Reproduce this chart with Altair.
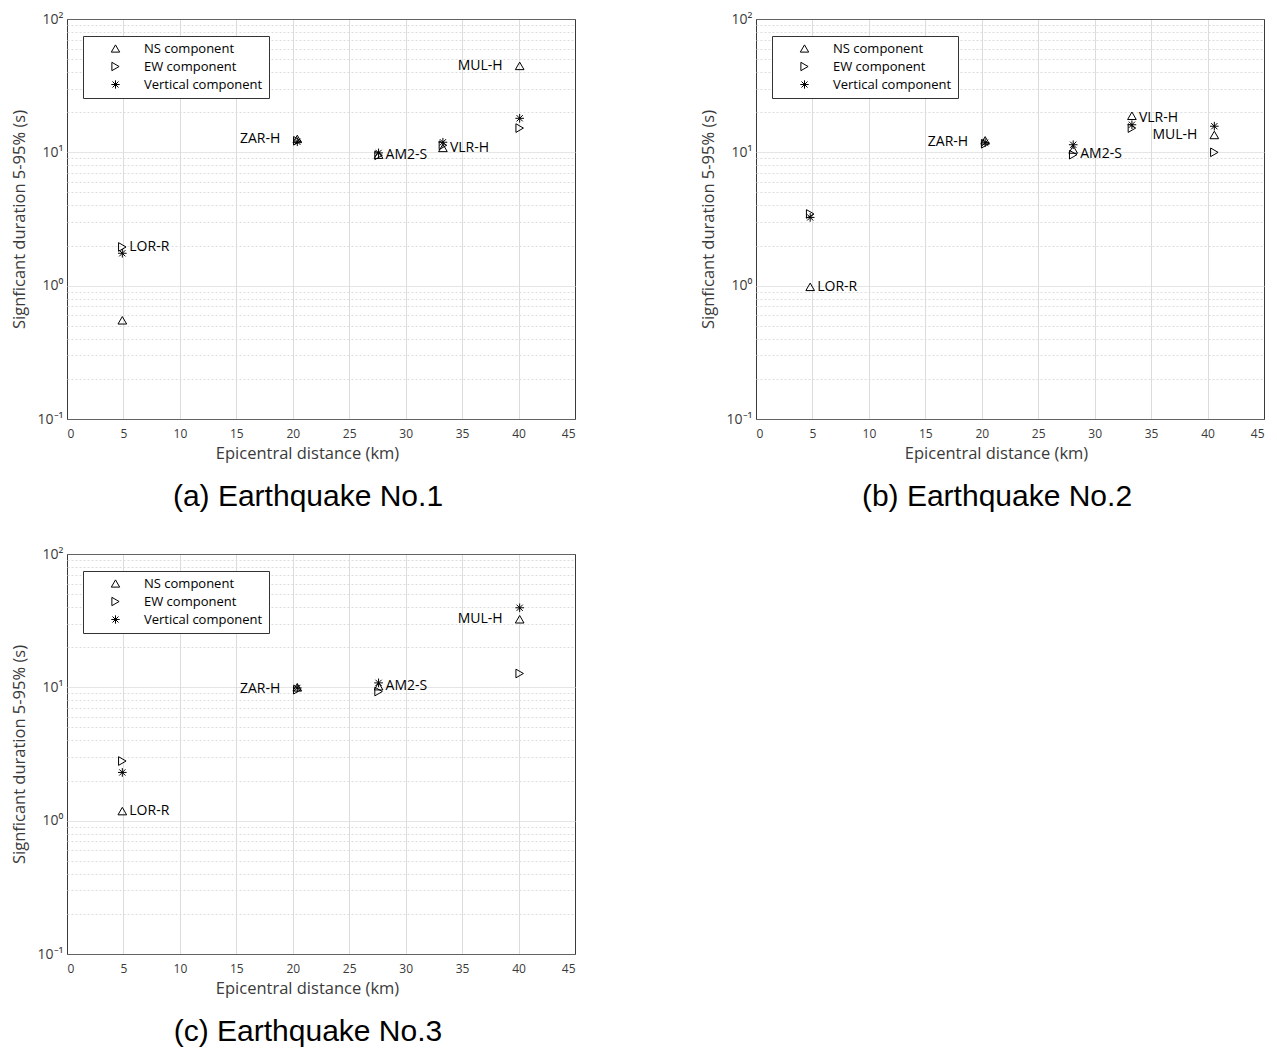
import altair as alt
import pandas as pd

components = ["NS component", "EW component", "Vertical component"]

# Earthquake No.1
stations_1 = ["LOR-R", "ZAR-H", "AM2-S", "VLR-H", "MUL-H"]
dist_1 = [4.9, 20.4, 27.6, 33.3, 40.1]
ns_1 = [0.55, 12.6, 9.6, 10.8, 44.5]
ew_1 = [1.95, 12.2, 9.5, 11.3, 15.2]
vert_1 = [1.75, 12.0, 9.9, 11.9, 18.0]
label_y_1 = [1.95, 12.6, 9.6, 10.7, 44.5]
label_side_1 = ["right", "left", "right", "right", "left"]

# Earthquake No.2
stations_2 = ["LOR-R", "ZAR-H", "AM2-S", "VLR-H", "MUL-H"]
dist_2 = [4.8, 20.3, 28.1, 33.3, 40.6]
ns_2 = [0.98, 12.3, 10.5, 18.8, 13.5]
ew_2 = [3.45, 11.6, 9.6, 15.2, 10.0]
vert_2 = [3.25, 11.8, 11.4, 16.1, 15.7]
label_y_2 = [0.98, 11.9, 9.8, 18.0, 13.5]
label_side_2 = ["right", "left", "right", "right", "left"]

# Earthquake No.3
stations_3 = ["LOR-R", "ZAR-H", "AM2-S", "MUL-H"]
dist_3 = [4.9, 20.4, 27.6, 40.1]
ns_3 = [1.18, 10.0, 10.2, 32.4]
ew_3 = [2.8, 9.6, 9.3, 12.7]
vert_3 = [2.3, 9.9, 10.8, 39.5]
label_y_3 = [1.18, 9.8, 10.2, 32.4]
label_side_3 = ["right", "left", "right", "left"]

captions = ["(a) Earthquake No.1", "(b) Earthquake No.2", "(c) Earthquake No.3"]

x_ticks = [0, 5, 10, 15, 20, 25, 30, 35, 40, 45]
y_grid = [m * 10 ** k for k in (-1, 0, 1) for m in range(1, 10)] + [100]

FONT = "Open Sans"
ASTERISK = "M-1,0L1,0M0,-1L0,1M-0.72,-0.72L0.72,0.72M-0.72,0.72L0.72,-0.72"
DECADE_TEST = "abs(log(datum.value)/LN10 - round(log(datum.value)/LN10)) < 1e-6"
LABEL_EXPR = ("datum.value == 100 ? '10²' : datum.value == 10 ? '10¹' : "
              "datum.value == 1 ? '10⁰' : (datum.value > 0.099 && datum.value < 0.101) ? '10⁻¹' : ''")
FRAME = "#3a3a3a"
GRID = "#dcdcdc"


def panel(stations, dist, ns, ew, vert, label_y, label_side, caption):
    rows = []
    for s, d, a, b, c in zip(stations, dist, ns, ew, vert):
        rows.append({"station": s, "dist": d, "value": a, "comp": components[0]})
        rows.append({"station": s, "dist": d, "value": b, "comp": components[1]})
        rows.append({"station": s, "dist": d, "value": c, "comp": components[2]})
    pts = pd.DataFrame(rows)
    labs = pd.DataFrame({"station": stations, "dist": dist, "value": label_y, "side": label_side})

    x = alt.X("dist:Q", scale=alt.Scale(domain=[0, 45], nice=False),
              axis=alt.Axis(title="Epicentral distance (km)", values=x_ticks, format="d",
                            grid=True,
                            gridColor={"condition": {"test": "datum.value == 0 || datum.value == 45",
                                                     "value": FRAME}, "value": GRID},
                            gridWidth=1, ticks=False,
                            domain=False, labelFont=FONT, labelFontSize=12, labelColor="#3a3a3a",
                            labelPadding=9, titleFont=FONT, titleFontSize=16.5,
                            titleFontWeight="normal", titleColor="#3a3a3a", titlePadding=6,
                            titleX=240))
    y = alt.Y("value:Q", scale=alt.Scale(type="log", domain=[0.1, 100], nice=False),
              axis=alt.Axis(title="Signficant duration 5-95% (s)", values=y_grid,
                            labelExpr=LABEL_EXPR, grid=True,
                            gridColor={"condition": {"test": "datum.value < 0.101 || datum.value > 99",
                                                     "value": FRAME}, "value": GRID},
                            gridDash={"condition": {"test": DECADE_TEST, "value": [1, 0]},
                                      "value": [2, 2]},
                            ticks=False, domain=False, labelFont=FONT, labelFontSize=14,
                            labelColor="#3a3a3a", labelPadding=4, labelOverlap=False,
                            minExtent=32, maxExtent=32,
                            titleFont=FONT, titleFontSize=16.5, titleFontWeight="normal",
                            titleColor="#3a3a3a", titlePadding=8))

    points = alt.Chart(pts).mark_point(filled=False, color="black", strokeWidth=1, size=75, opacity=1).encode(
        x=x, y=y,
        shape=alt.Shape("comp:N",
                        scale=alt.Scale(domain=components,
                                        range=["triangle-up", "triangle-right", ASTERISK]),
                        legend=alt.Legend(title=None, orient="none", legendX=16, legendY=17,
                                          strokeColor="#333333", fillColor="white", padding=6,
                                          symbolOffset=20, labelOffset=22, rowPadding=4,
                                          symbolSize=70, symbolStrokeColor="black",
                                          symbolStrokeWidth=1, symbolFillColor="transparent",
                                          labelFont=FONT, labelFontSize=13, labelColor="black",
                                          cornerRadius=0)),
    )
    right = alt.Chart(labs).transform_filter(alt.datum.side == "right").mark_text(
        align="left", baseline="middle", dx=7, font=FONT, fontSize=14, color="black"
    ).encode(x="dist:Q", y="value:Q", text="station:N")
    left = alt.Chart(labs).transform_filter(alt.datum.side == "left").mark_text(
        align="right", baseline="middle", dx=-17, font=FONT, fontSize=14, color="black"
    ).encode(x="dist:Q", y="value:Q", text="station:N")

    return alt.layer(points, right, left).properties(
        width=508, height=400,
        title=alt.TitleParams(caption, orient="bottom", anchor="middle", frame="group",
                              font="Liberation Sans", fontSize=30, fontWeight="normal",
                              color="black", offset=20, dx=-13),
    )


pa = panel(stations_1, dist_1, ns_1, ew_1, vert_1, label_y_1, label_side_1, captions[0])
pb = panel(stations_2, dist_2, ns_2, ew_2, vert_2, label_y_2, label_side_2, captions[1])
pc = panel(stations_3, dist_3, ns_3, ew_3, vert_3, label_y_3, label_side_3, captions[2])

top = alt.hconcat(pa, pb, spacing=123).resolve_scale(shape="independent").resolve_legend(shape="independent")
chart = alt.vconcat(top, pc, spacing=34).resolve_scale(shape="independent").resolve_legend(
    shape="independent"
).properties(padding={"left": 2, "top": 3, "right": 0, "bottom": 0}).configure_view(
    stroke=FRAME, strokeWidth=1
).configure(background="white")

chart.save("out.html", embed_options={"renderer": "svg", "actions": False})
